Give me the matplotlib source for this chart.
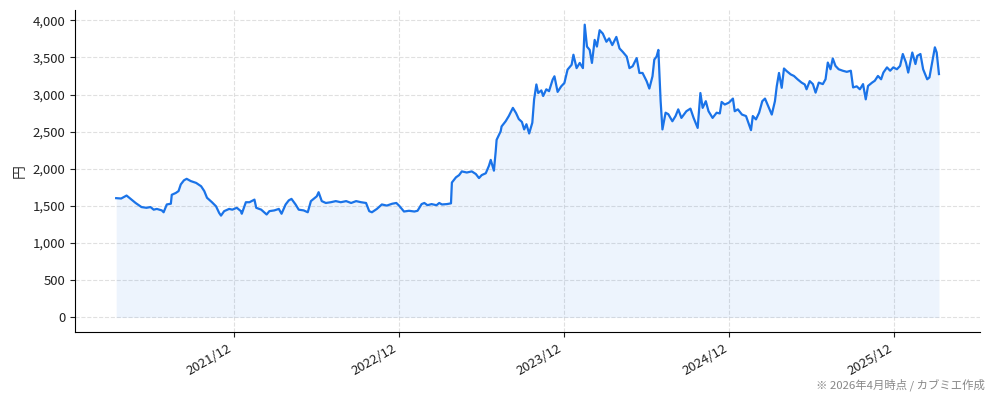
import matplotlib
matplotlib.use("Agg")
import matplotlib.pyplot as plt
import matplotlib.dates as mdates
from matplotlib.ticker import FuncFormatter, MultipleLocator
import pandas as pd

plt.rcParams['font.family'] = ['Noto Sans CJK JP', 'DejaVu Sans']

# 株価
dates = [
    "2021-03-15", "2021-03-26", "2021-04-07", "2021-04-16", "2021-04-27", "2021-05-03", "2021-05-10",
    "2021-05-21", "2021-05-30", "2021-06-06", "2021-06-13", "2021-06-24", "2021-06-28", "2021-07-05",
    "2021-07-14", "2021-07-16", "2021-07-25", "2021-07-31", "2021-08-05", "2021-08-12", "2021-08-18",
    "2021-08-27", "2021-09-08", "2021-09-19", "2021-09-26", "2021-10-02", "2021-10-13", "2021-10-22",
    "2021-10-29", "2021-11-02", "2021-11-09", "2021-11-20", "2021-11-27", "2021-12-07", "2021-12-16",
    "2021-12-18", "2021-12-27", "2022-01-04", "2022-01-15", "2022-01-19", "2022-01-30", "2022-02-11",
    "2022-02-17", "2022-02-28", "2022-03-10", "2022-03-16", "2022-03-25", "2022-04-01", "2022-04-07",
    "2022-04-16", "2022-04-23", "2022-05-04", "2022-05-13", "2022-05-20", "2022-05-26", "2022-06-02",
    "2022-06-06", "2022-06-13", "2022-06-22", "2022-07-03", "2022-07-14", "2022-07-25", "2022-08-06",
    "2022-08-17", "2022-08-28", "2022-09-08", "2022-09-19", "2022-09-26", "2022-10-02", "2022-10-13",
    "2022-10-24", "2022-11-04", "2022-11-16", "2022-11-25", "2022-12-01", "2022-12-12", "2022-12-23",
    "2023-01-04", "2023-01-11", "2023-01-20", "2023-01-26", "2023-02-02", "2023-02-11", "2023-02-22",
    "2023-02-28", "2023-03-06", "2023-03-17", "2023-03-26", "2023-03-28", "2023-04-06", "2023-04-13",
    "2023-04-19", "2023-04-30", "2023-05-11", "2023-05-20", "2023-05-27", "2023-06-02", "2023-06-11",
    "2023-06-18", "2023-06-22", "2023-06-29", "2023-07-03", "2023-07-05", "2023-07-14", "2023-07-16",
    "2023-07-25", "2023-08-01", "2023-08-10", "2023-08-17", "2023-08-23", "2023-08-30", "2023-09-04",
    "2023-09-09", "2023-09-15", "2023-09-22", "2023-09-26", "2023-10-01", "2023-10-05", "2023-10-12",
    "2023-10-16", "2023-10-23", "2023-10-29", "2023-11-06", "2023-11-10", "2023-11-17", "2023-11-25",
    "2023-12-02", "2023-12-09", "2023-12-18", "2023-12-22", "2023-12-29", "2024-01-05", "2024-01-12",
    "2024-01-16", "2024-01-21", "2024-01-27", "2024-02-01", "2024-02-07", "2024-02-12", "2024-02-18",
    "2024-02-25", "2024-03-04", "2024-03-10", "2024-03-17", "2024-03-26", "2024-04-02", "2024-04-09",
    "2024-04-18", "2024-04-24", "2024-05-01", "2024-05-10", "2024-05-16", "2024-05-23", "2024-06-01",
    "2024-06-07", "2024-06-14", "2024-06-18", "2024-06-23", "2024-06-27", "2024-07-02", "2024-07-06",
    "2024-07-13", "2024-07-19", "2024-07-28", "2024-08-04", "2024-08-10", "2024-08-17", "2024-08-28",
    "2024-09-06", "2024-09-13", "2024-09-22", "2024-09-28", "2024-10-03", "2024-10-10", "2024-10-16",
    "2024-10-25", "2024-11-03", "2024-11-10", "2024-11-14", "2024-11-21", "2024-11-30", "2024-12-09",
    "2024-12-13", "2024-12-20", "2024-12-29", "2025-01-07", "2025-01-11", "2025-01-18", "2025-01-22",
    "2025-01-29", "2025-02-05", "2025-02-12", "2025-02-18", "2025-02-25", "2025-03-05", "2025-03-12",
    "2025-03-16", "2025-03-21", "2025-03-27", "2025-04-01", "2025-04-07", "2025-04-16", "2025-04-23",
    "2025-05-01", "2025-05-10", "2025-05-17", "2025-05-21", "2025-05-28", "2025-06-04", "2025-06-10",
    "2025-06-17", "2025-06-26", "2025-07-02", "2025-07-07", "2025-07-13", "2025-07-18", "2025-07-24",
    "2025-07-31", "2025-08-09", "2025-08-18", "2025-08-27", "2025-09-01", "2025-09-09", "2025-09-16",
    "2025-09-23", "2025-09-29", "2025-10-04", "2025-10-13", "2025-10-19", "2025-10-26", "2025-11-02",
    "2025-11-07", "2025-11-15", "2025-11-22", "2025-11-29", "2025-12-07", "2025-12-14", "2025-12-20",
    "2025-12-27", "2026-01-01", "2026-01-10", "2026-01-17", "2026-01-21", "2026-01-28", "2026-02-03",
    "2026-02-12", "2026-02-17", "2026-02-23", "2026-03-01", "2026-03-05", "2026-03-10",
]
prices = [
    1605, 1600, 1640, 1595, 1540, 1515, 1485,
    1475, 1485, 1450, 1460, 1440, 1415, 1520,
    1530, 1650, 1675, 1700, 1790, 1845, 1865,
    1835, 1810, 1765, 1700, 1610, 1550, 1495,
    1405, 1370, 1430, 1460, 1450, 1475, 1430,
    1395, 1550, 1550, 1585, 1475, 1450, 1385,
    1430, 1440, 1460, 1395, 1520, 1575, 1595,
    1520, 1450, 1440, 1415, 1565, 1595, 1630,
    1685, 1565, 1540, 1550, 1565, 1550, 1565,
    1540, 1565, 1550, 1540, 1430, 1415, 1460,
    1520, 1505, 1530, 1540, 1505, 1425, 1435,
    1425, 1435, 1525, 1540, 1510, 1525, 1510,
    1540, 1520, 1525, 1535, 1815, 1885, 1915,
    1965, 1950, 1965, 1930, 1875, 1915, 1940,
    2040, 2120, 1975, 2235, 2390, 2505, 2570,
    2640, 2710, 2820, 2750, 2670, 2630, 2530,
    2600, 2475, 2620, 2935, 3135, 3020, 3055,
    2980, 3070, 3045, 3200, 3245, 3035, 3110,
    3155, 3335, 3400, 3535, 3355, 3425, 3355,
    3940, 3645, 3600, 3425, 3735, 3645, 3865,
    3820, 3710, 3755, 3665, 3775, 3620, 3575,
    3510, 3355, 3380, 3490, 3290, 3290, 3180,
    3080, 3245, 3470, 3510, 3600, 2910, 2530,
    2755, 2735, 2640, 2710, 2800, 2685, 2775,
    2810, 2685, 2550, 3020, 2820, 2910, 2775,
    2685, 2755, 2745, 2900, 2865, 2890, 2945,
    2775, 2800, 2730, 2710, 2640, 2520, 2710,
    2665, 2755, 2910, 2945, 2845, 2730, 2910,
    3110, 3290, 3090, 3350, 3315, 3270, 3250,
    3205, 3160, 3135, 3070, 3180, 3140, 3025,
    3160, 3140, 3205, 3430, 3340, 3485, 3385,
    3340, 3320, 3305, 3320, 3095, 3110, 3070,
    3140, 2935, 3115, 3160, 3185, 3250, 3205,
    3295, 3365, 3320, 3365, 3340, 3385, 3545,
    3430, 3295, 3565, 3410, 3520, 3545, 3340,
    3205, 3230, 3430, 3635, 3565, 3275,
]
tick_dates = ["2021-12-01", "2022-12-01", "2023-12-01", "2024-12-01", "2025-12-01"]

x = pd.to_datetime(dates)
color = "#1a73e8"

fig, ax = plt.subplots(figsize=(9.94, 4.01), dpi=100)
fig.subplots_adjust(left=0.0755, right=0.986, top=0.975, bottom=0.172)

ax.fill_between(x, prices, 0, color=color, alpha=0.08, linewidth=0)
ax.plot(x, prices, color=color, linewidth=1.6)

ax.set_xticks(pd.to_datetime(tick_dates))
ax.xaxis.set_major_formatter(mdates.DateFormatter("%Y/%m"))
for lab in ax.get_xticklabels():
    lab.set_rotation(30)
    lab.set_ha("right")

ax.yaxis.set_major_locator(MultipleLocator(500))
ax.yaxis.set_major_formatter(FuncFormatter(lambda v, p: f"{int(v):,}"))
ax.set_ylabel("円", fontsize=10, color="#333333")

ax.grid(True, linestyle="--", color="#d9d9d9", linewidth=0.8, alpha=0.8)
ax.set_axisbelow(True)
ax.spines["top"].set_visible(False)
ax.spines["right"].set_visible(False)
ax.tick_params(labelsize=9.5, colors="#222222")

fig.text(0.991, 0.04, "※ 2026年4月時点 / カブミエ作成", ha="right", va="center",
         fontsize=8.2, color="#888888")

fig.savefig("out.png", dpi=100)
